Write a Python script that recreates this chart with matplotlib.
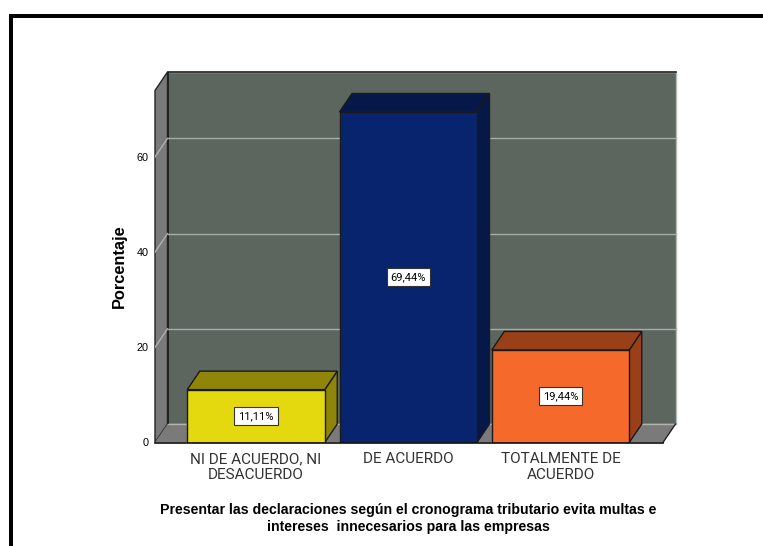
import matplotlib
matplotlib.use("Agg")
import matplotlib.pyplot as plt
from matplotlib.patches import Polygon, Rectangle

plt.rcParams['font.family'] = ['Liberation Sans', 'DejaVu Sans']
condensed = ['Roboto', 'Liberation Sans']

categories = ["NI DE ACUERDO, NI\nDESACUERDO", "DE ACUERDO", "TOTALMENTE DE\nACUERDO"]
values = [11.11, 69.44, 19.44]
value_labels = ["11,11%", "69,44%", "19,44%"]
front_colors = ["#E4D90E", "#08246E", "#F5692A"]
top_colors = ["#8F8508", "#051849", "#9A4018"]
y_ticks = [0, 20, 40, 60]
y_label = "Porcentaje"
x_title = "Presentar las declaraciones según el cronograma tributario evita multas e\nintereses  innecesarios para las empresas"

W, H = 763, 546
fig = plt.figure(figsize=(W / 100, H / 100), dpi=100, facecolor="white")

# Outer black frame, open on the right and at the bottom
fig.add_artist(Rectangle((9 / W, 0), 4.2 / W, 1 - 14 / H, transform=fig.transFigure, fc="black", ec="none"))
fig.add_artist(Rectangle((9 / W, 1 - 18 / H), 1 - 9 / W, 4.2 / H, transform=fig.transFigure, fc="black", ec="none"))

# Axes area: left edge and baseline of the front plane, up to the back wall's top
left, right, bottom, top = 155, 675, 442.5, 72
ax = fig.add_axes([left / W, 1 - bottom / H, (right - left) / W, (bottom - top) / H])
px_per_unit_y = 4.76
px_per_cat = 152.25
ax.set_xlim((left - 256) / px_per_cat, (right - 256) / px_per_cat)
ax.set_ylim(0, (bottom - top) / px_per_unit_y)
ax.patch.set_visible(False)
for s in ax.spines.values():
    s.set_visible(False)

# Box depth, in data units
dx = 12.5 / px_per_cat
dy = 18.5 / px_per_unit_y
x0 = ax.get_xlim()[0]
x1 = x0 + (663 - left) / px_per_cat
ymax = ax.get_ylim()[1]
edge = "#1a1a1a"

# Back wall, side wall and floor
ax.add_patch(Polygon([(x0 + dx, dy), (x1 + dx, dy), (x1 + dx, ymax), (x0 + dx, ymax)],
                     fc="#5C665F", ec="#b4b8b4", lw=1, zorder=1, clip_on=False))
ax.add_patch(Polygon([(x0, 0), (x0 + dx, dy), (x0 + dx, ymax), (x0, ymax - dy)],
                     fc="#7A7A7A", ec="#222222", lw=1, zorder=1.2, clip_on=False))
ax.add_patch(Polygon([(x0, 0), (x1, 0), (x1 + dx, dy), (x0 + dx, dy)],
                     fc="#7A7A7A", ec="none", zorder=1.2, clip_on=False))
ax.plot([x0 + dx, x0 + dx], [dy, ymax], color="#222222", lw=1, zorder=1.3, clip_on=False)
ax.plot([x0 + dx, x1 + dx], [ymax, ymax], color="#222222", lw=1.2, zorder=1.3, clip_on=False)
ax.plot([x0 + dx, x1 + dx], [dy, dy], color="#b0b4b0", lw=1, zorder=1.3, clip_on=False)
ax.plot([x1, x1 + dx], [0, dy], color="#222222", lw=1, zorder=1.3, clip_on=False)

# Gridlines on the back wall and their slanted part on the side wall
for t in y_ticks[1:]:
    ax.plot([x0 + dx, x1 + dx], [t + dy, t + dy], color="#a8aca8", lw=1, zorder=1.4, clip_on=False)
    ax.plot([x0, x0 + dx], [t, t + dy], color="#b0b0b0", lw=1, zorder=1.4)

# Three-dimensional bars
half = 68.75 / px_per_cat
for i, (v, f, t, lab) in enumerate(zip(values, front_colors, top_colors, value_labels)):
    a, b = i - half, i + half
    ax.add_patch(Polygon([(b, 0), (b + dx, dy), (b + dx, v + dy), (b, v)], fc=t, ec=edge, lw=1, zorder=3))
    ax.add_patch(Polygon([(a, v), (b, v), (b + dx, v + dy), (a + dx, v + dy)], fc=t, ec=edge, lw=1, zorder=3))
    ax.bar(i, v, width=2 * half, color=f, edgecolor=edge, linewidth=1, zorder=4)
    ax.text(i, v / 2, lab, ha="center", va="center", fontsize=8, family=condensed,
            color="black", zorder=5,
            bbox=dict(boxstyle="square,pad=0.34", fc="white", ec="#333333", lw=0.8))

# Baseline
ax.plot([x0, x1], [0, 0], color="#111111", lw=1.2, zorder=6, clip_on=False)

ax.set_yticks(y_ticks)
ax.set_xticks(range(len(categories)))
ax.set_xticklabels(categories, fontsize=11, family=condensed, color="#333333", linespacing=1.2)
ax.tick_params(axis="x", length=0, pad=7)
ax.tick_params(axis="y", length=0, labelsize=7.8, pad=4.5)
ax.set_ylabel(y_label, fontsize=11.8, fontweight="bold", va="center")
ax.yaxis.set_label_coords((119 - left) / (right - left), (bottom - 266.5) / (bottom - top))

fig.text(408 / W, 1 - 518.5 / H, x_title, ha="center", va="center", fontsize=10.2,
         fontweight="bold", linespacing=1.25, color="black")

fig.savefig("out.png", dpi=100)
